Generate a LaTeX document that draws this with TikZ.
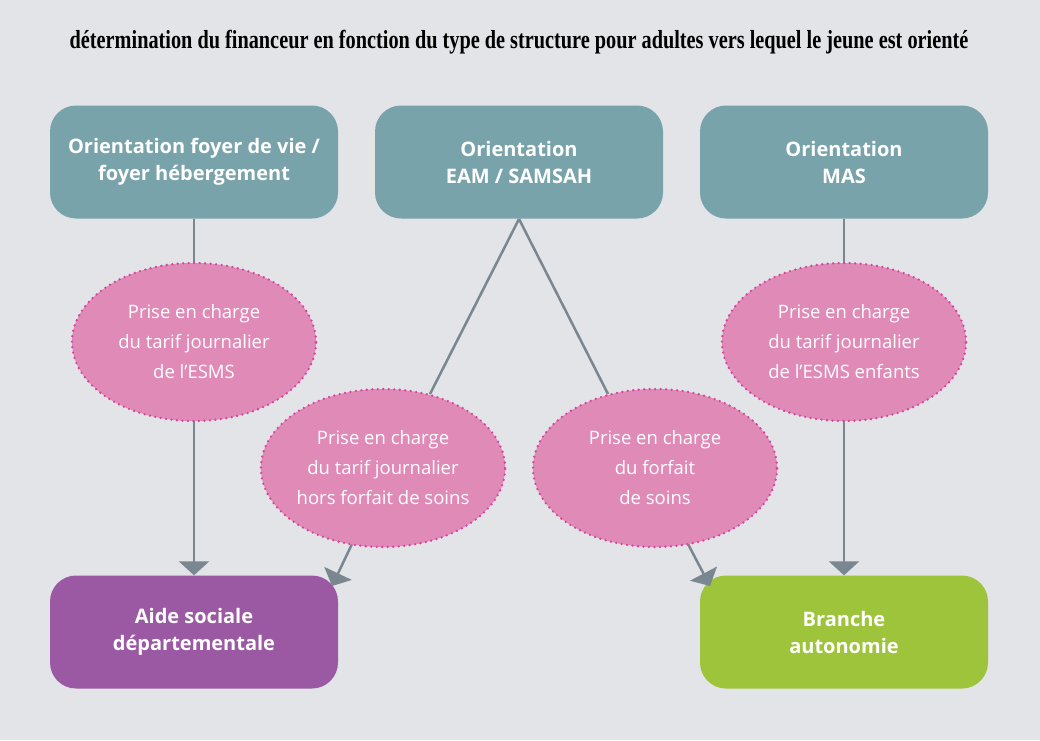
\documentclass[tikz,border=0pt]{standalone}
\usepackage{fontspec}
\setmainfont{Open Sans}
\newfontfamily\titlefont{Liberation Serif}
\usetikzlibrary{arrows.meta,shapes.geometric}
\definecolor{bg}{HTML}{E2E4E8}
\definecolor{teal}{HTML}{78A3AA}
\definecolor{purp}{HTML}{9B59A3}
\definecolor{grn}{HTML}{9DC43A}
\definecolor{pinkf}{HTML}{E08AB8}
\definecolor{pinkd}{HTML}{D9449A}
\definecolor{lin}{HTML}{7A8690}
\tikzset{
 box/.style={rounded corners=26pt,minimum width=288pt,minimum height=113pt,text=white,font=\fontsize{20}{27}\selectfont\bfseries,align=center,inner sep=0},
 ell/.style={ellipse,fill=pinkf,draw=pinkd,line width=2.6pt,dash pattern=on 0pt off 5.5pt,line cap=round,minimum width=244pt,minimum height=158pt,text=white,font=\fontsize{18.5}{30}\selectfont,align=center,inner sep=0},
 con/.style={draw=lin,line width=2.5pt},
 arr/.style={con,-{Triangle[width=30pt,length=14pt]}},
}
\begin{document}
\begin{tikzpicture}[x=1pt,y=-1pt]
\fill[bg] (0,0) rectangle (1040,740);
\path[use as bounding box] (0,0) rectangle (1040,740);
\node[xscale=0.78,font=\titlefont\bfseries\fontsize{26}{30}\selectfont] (title) at (519,42) {détermination du financeur en fonction du type de structure pour adultes vers lequel le jeune est orienté};
\node[box,fill=teal] (t1) at (194,162) {Orientation foyer de vie /\\foyer hébergement};
\node[box,fill=teal] (t2) at (519,162) {Orientation\\EAM / SAMSAH};
\node[box,fill=teal] (t3) at (844,162) {Orientation\\MAS};
\node[box,fill=purp] (b1) at (194,632) {Aide sociale\\départementale};
\node[box,fill=grn] (b2) at (844,632) {Branche\\autonomie};
\coordinate (apex) at (519,219);
\draw[arr] (t1.south) -- (b1.north);
\draw[arr] (t3.south) -- (b2.north);
\coordinate (e2t) at (430,394);
\coordinate (e3t) at (608,394);
\draw[con] (apex) -- (e2t);
\draw[con] (apex) -- (e3t);
\coordinate (e2b) at (352,544);
\coordinate (e3b) at (688,544);
\draw[arr] (e2b) -- (332,586);
\draw[arr] (e3b) -- (710,586);
\node[ell] (e1) at (194,342) {Prise en charge\\du tarif journalier\\de l’ESMS};
\node[ell] (e4) at (844,342) {Prise en charge\\du tarif journalier\\de l’ESMS enfants};
\node[ell] (e2) at (383,468) {Prise en charge\\du tarif journalier\\hors forfait de soins};
\node[ell] (e3) at (655,468) {Prise en charge\\du forfait\\de soins};
\end{tikzpicture}
\end{document}
